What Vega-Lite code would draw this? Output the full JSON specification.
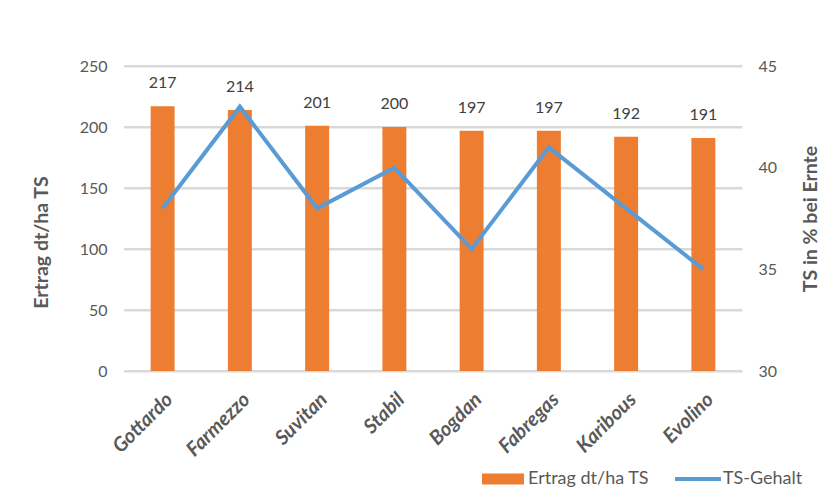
{
  "$schema": "https://vega.github.io/schema/vega-lite/v6.json",
  "width": 618,
  "height": 305,
  "autosize": {"type": "none"},
  "padding": {"left": 124, "top": 66, "right": 93, "bottom": 123},
  "background": "white",
  "config": {
    "font": "Lato",
    "view": {"stroke": null},
    "axis": {"labelColor": "#595959", "titleColor": "#595959", "labelFontSize": 16, "titleFontSize": 19.5, "titleFontWeight": "bold", "domain": false, "ticks": false}
  },
  "datasets": {
    "gridvals": [{"g": 0}, {"g": 50}, {"g": 100}, {"g": 150}, {"g": 200}, {"g": 250}]
  },
  "data": {
    "values": [
      {"sorte": "Gottardo", "ertrag": 217, "ts": 38},
      {"sorte": "Farmezzo", "ertrag": 214, "ts": 43},
      {"sorte": "Suvitan", "ertrag": 201, "ts": 38},
      {"sorte": "Stabil", "ertrag": 200, "ts": 40},
      {"sorte": "Bogdan", "ertrag": 197, "ts": 36},
      {"sorte": "Fabregas", "ertrag": 197, "ts": 41},
      {"sorte": "Karibous", "ertrag": 192, "ts": 38},
      {"sorte": "Evolino", "ertrag": 191, "ts": 35}
    ]
  },
  "layer": [
    {
      "encoding": {
        "y": {"field": "ertrag", "type": "quantitative", "scale": {"domain": [0, 250], "nice": false, "zero": true},
          "axis": {"title": "Ertrag dt/ha TS", "values": [0, 50, 100, 150, 200, 250], "labelOverlap": false, "grid": true, "gridColor": "#D9D9D9", "gridWidth": 2, "labelPadding": 17, "titlePadding": 28, "titleY": 176}}
      },
      "layer": [
        {
          "data": {"name": "gridvals"},
          "mark": {"type": "rule", "color": "#D9D9D9", "strokeWidth": 2},
          "encoding": {
            "y": {"field": "g", "type": "quantitative"}
          }
        },
        {
          "mark": {"type": "bar"},
          "encoding": {
            "x": {
              "field": "sorte", "type": "nominal", "sort": null,
              "scale": {"paddingInner": 0.69, "paddingOuter": 0.345},
              "axis": {"title": null, "labelAngle": -45, "labelFontWeight": "bold", "labelFontStyle": "italic", "labelFontSize": 20, "labelPadding": 18, "grid": false}
            },
            "color": {"datum": "Ertrag dt/ha TS", "type": "nominal",
              "scale": {"domain": ["Ertrag dt/ha TS", "TS-Gehalt"], "range": ["#ED7D31", "#5B9BD5"]},
              "legend": {
                "orient": "none", "legendX": 370, "legendY": 404, "direction": "horizontal", "title": null,
                "symbolSize": 400, "labelFontSize": 18, "labelColor": "#595959", "labelOffset": 16, "columnPadding": 17,
                "symbolStrokeWidth": 0,
                "encode": {
                  "symbols": {
                    "update": {
                      "shape": {"signal": "datum.value == 'TS-Gehalt' ? 'M-2.3,0H2.3' : 'M-2.1,-0.55H2.1V0.55H-2.1Z'"},
                      "fill": {"signal": "datum.value == 'TS-Gehalt' ? 'transparent' : '#ED7D31'"},
                      "stroke": {"signal": "datum.value == 'TS-Gehalt' ? '#5B9BD5' : 'transparent'"},
                      "strokeWidth": {"signal": "datum.value == 'TS-Gehalt' ? 4 : 0"},
                      "opacity": {"value": 1}
                    }
                  }
                }
              }
            }
          }
        },
        {
          "mark": {"type": "text", "dy": -15, "fontSize": 16, "color": "#404040", "baseline": "bottom"},
          "encoding": {
            "x": {"field": "sorte", "type": "nominal", "sort": null},
            "text": {"field": "ertrag", "type": "quantitative"}
          }
        }
      ]
    },
    {
      "mark": {"type": "line", "strokeWidth": 4},
      "encoding": {
        "x": {"field": "sorte", "type": "nominal", "sort": null},
        "y": {"field": "ts", "type": "quantitative", "scale": {"domain": [30, 45], "nice": false, "zero": false},
          "axis": {"orient": "right", "title": "TS in % bei Ernte", "values": [30, 35, 40, 45], "grid": false, "labelPadding": 16, "titleAngle": 270, "titlePadding": 44}},
        "color": {"datum": "TS-Gehalt", "type": "nominal"}
      }
    }
  ],
  "resolve": {"scale": {"y": "independent"}}
}
